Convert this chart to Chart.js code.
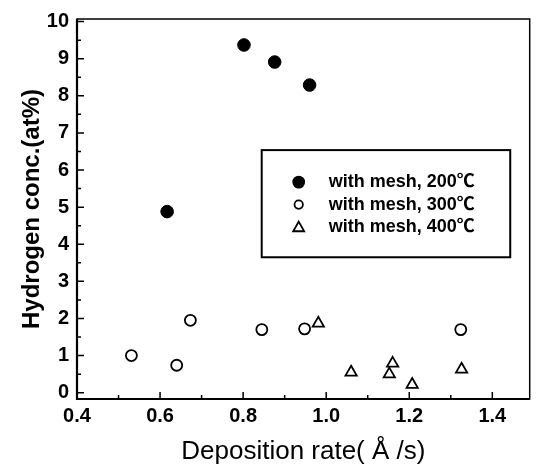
<!DOCTYPE html>
<html>
<head>
<meta charset="utf-8">
<script src="https://cdn.jsdelivr.net/npm/chart.js@4.4.1/dist/chart.umd.min.js"></script>
<style>
html, body { margin: 0; padding: 0; background: #fff; }
</style>
</head>
<body>
<canvas id="hChart" width="538" height="467"></canvas>
<script>
// data
const seriesLabels = ['with mesh, 200℃', 'with mesh, 300℃', 'with mesh, 400℃'];
const rate200 = [0.617, 0.802, 0.876, 0.960];
const conc200 = [4.88, 9.37, 8.91, 8.29];
const rate300 = [0.531, 0.640, 0.673, 0.845, 0.948, 1.324];
const conc300 = [1.00, 0.74, 1.95, 1.70, 1.72, 1.70];
const rate400 = [0.981, 1.060, 1.152, 1.160, 1.207, 1.326];
const conc400 = [1.87, 0.55, 0.50, 0.79, 0.22, 0.63];
const xTicks = [0.4, 0.6, 0.8, 1.0, 1.2, 1.4];
const xMinor = [0.5, 0.7, 0.9, 1.1, 1.3];
const yTicks = [0, 1, 2, 3, 4, 5, 6, 7, 8, 9, 10];
const yMinor = [0.5, 1.5, 2.5, 3.5, 4.5, 5.5, 6.5, 7.5, 8.5, 9.5];

function pts(xs, ys) {
    return xs.map((v, i) => ({ x: v, y: ys[i] }));
}

const fam = 'Liberation Sans, Arial, "Noto Sans CJK SC", sans-serif';
const tickFont = { family: fam, size: 20, weight: 'bold' };

// box, inward ticks and the in-plot legend
const framePlugin = {
    id: 'framePlugin',
    afterDraw(chart) {
        const ctx = chart.ctx;
        const a = chart.chartArea;
        const xs = chart.scales.x, ys = chart.scales.y;
        ctx.save();
        ctx.strokeStyle = '#000';
        ctx.lineWidth = 1.5;
        ctx.strokeRect(a.left, a.top, a.right - a.left, a.bottom - a.top);
        ctx.lineWidth = 2.2;
        ctx.beginPath();
        ctx.moveTo(a.left, a.top);
        ctx.lineTo(a.left, a.bottom);
        ctx.lineTo(a.right, a.bottom);
        ctx.stroke();

        ctx.lineWidth = 1.5;
        ctx.beginPath();
        xTicks.forEach(v => {
            const p = xs.getPixelForValue(v);
            ctx.moveTo(p, a.bottom); ctx.lineTo(p, a.bottom - 7);
        });
        xMinor.forEach(v => {
            const p = xs.getPixelForValue(v);
            ctx.moveTo(p, a.bottom); ctx.lineTo(p, a.bottom - 4);
        });
        yTicks.forEach(v => {
            const p = ys.getPixelForValue(v);
            ctx.moveTo(a.left, p); ctx.lineTo(a.left + 7, p);
        });
        yMinor.forEach(v => {
            const p = ys.getPixelForValue(v);
            ctx.moveTo(a.left, p); ctx.lineTo(a.left + 4, p);
        });
        ctx.stroke();

        // legend
        const w = a.right - a.left, h = a.bottom - a.top;
        const bx = a.left + 0.408 * w, by = a.top + 0.345 * h;
        const bw = 0.549 * w, bh = 0.282 * h;
        ctx.lineWidth = 2;
        ctx.strokeRect(bx, by, bw, bh);
        const sizes = [5.5, 4.2, 5.5];
        ctx.font = 'bold 18px ' + fam;
        ctx.textBaseline = 'middle';
        chart.data.datasets.forEach((ds, i) => {
            const ly = by + 32 + i * 22.5;
            const mx = bx + 37;
            ctx.fillStyle = ds.backgroundColor;
            ctx.strokeStyle = '#000';
            ctx.lineWidth = 1.8;
            ctx.beginPath();
            if (ds.pointStyle === 'circle') {
                ctx.arc(mx, ly, sizes[i], 0, Math.PI * 2);
            } else {
                const r = sizes[i];
                ctx.moveTo(mx, ly - r);
                ctx.lineTo(mx + r, ly + r * 0.75);
                ctx.lineTo(mx - r, ly + r * 0.75);
                ctx.closePath();
            }
            ctx.fill();
            ctx.stroke();
            ctx.fillStyle = '#000';
            ctx.fillText(ds.label, bx + 67, ly);
        });
        ctx.restore();
    }
};

const ctx = document.getElementById('hChart').getContext('2d');
const hChart = new Chart(ctx, {
    type: 'scatter',
    data: {
        datasets: [
            {
                label: seriesLabels[0],
                data: pts(rate200, conc200),
                pointStyle: 'circle',
                pointRadius: 6.3,
                backgroundColor: '#000',
                borderColor: '#000',
                borderWidth: 1
            },
            {
                label: seriesLabels[1],
                data: pts(rate300, conc300),
                pointStyle: 'circle',
                pointRadius: 5.5,
                backgroundColor: '#fff',
                borderColor: '#000',
                borderWidth: 1.8
            },
            {
                label: seriesLabels[2],
                data: pts(rate400, conc400),
                pointStyle: 'triangle',
                pointRadius: 6.5,
                backgroundColor: '#fff',
                borderColor: '#000',
                borderWidth: 1.8
            }
        ]
    },
    options: {
        responsive: false,
        animation: false,
        devicePixelRatio: 1,
        layout: { padding: { top: 19, right: 4, left: 0, bottom: 0 } },
        plugins: {
            legend: { display: false },
            tooltip: { enabled: false }
        },
        scales: {
            x: {
                type: 'linear',
                min: 0.4,
                max: 1.49,
                afterBuildTicks: s => { s.ticks = xTicks.map(v => ({ value: v })); },
                afterFit: s => { s.height = 68; s.paddingLeft = 0; s.paddingRight = 0; },
                grid: { display: false, drawTicks: false },
                border: { display: false },
                ticks: {
                    color: '#000',
                    font: tickFont,
                    padding: 5,
                    maxRotation: 0,
                    callback: v => v.toFixed(1)
                },
                title: {
                    display: true,
                    text: 'Deposition rate( Å /s)',
                    color: '#000',
                    font: { family: fam, size: 26 },
                    padding: { top: 0, bottom: 0 }
                }
            },
            y: {
                type: 'linear',
                min: -0.17,
                max: 10.07,
                afterBuildTicks: s => { s.ticks = yTicks.map(v => ({ value: v })); },
                afterFit: s => { s.width = 77; s.paddingTop = 0; s.paddingBottom = 0; },
                grid: { display: false, drawTicks: false },
                border: { display: false },
                ticks: {
                    color: '#000',
                    font: tickFont,
                    padding: 8
                },
                title: {
                    display: true,
                    text: 'Hydrogen conc.(at%)',
                    color: '#000',
                    font: { family: fam, size: 24, weight: 'bold' },
                    padding: { top: 18, bottom: 0 }
                }
            }
        }
    },
    plugins: [framePlugin]
});
</script>
</body>
</html>
